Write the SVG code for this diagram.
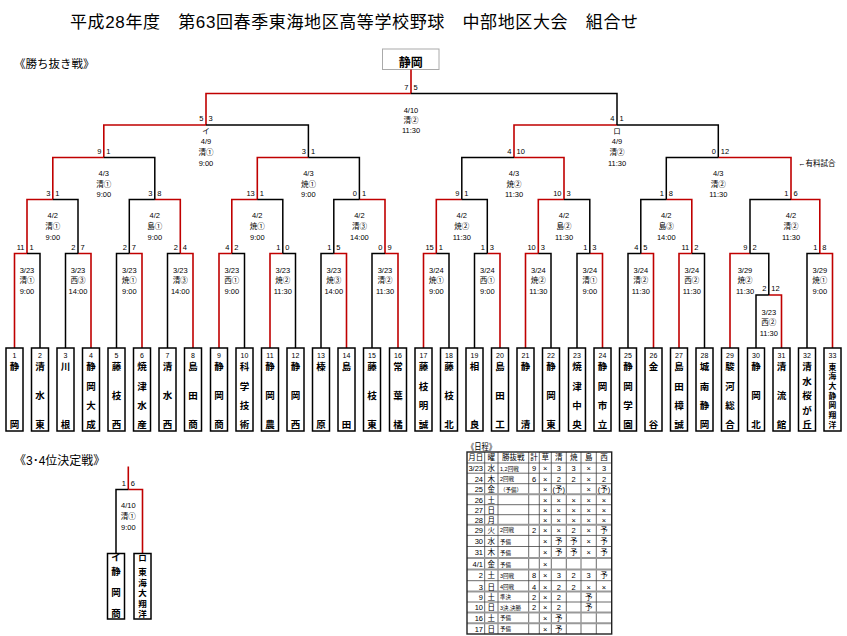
<svg xmlns="http://www.w3.org/2000/svg" width="847" height="636" viewBox="0 0 847 636">
<style>
.k{fill:none;stroke:#000;stroke-width:1.5}
.r{fill:none;stroke:#c00000;stroke-width:1.6}
.bx{fill:#fff;stroke:#000;stroke-width:1.5}
text{font-family:"Liberation Sans","Noto Sans CJK JP",sans-serif;fill:#000}
.s{font-size:7.5px}
.sl{font-size:7.5px;text-anchor:end}
.d{font-size:7.5px;text-anchor:middle}
.n{font-family:"Noto Sans CJK JP",sans-serif;font-size:9.5px;font-weight:bold;text-anchor:middle}
.no{font-size:7px;text-anchor:middle}
.tg{stroke:#444;stroke-width:0.8;fill:none}
.tt{stroke:#999;stroke-width:2;fill:none}
.tb{font-family:"Noto Sans CJK JP",sans-serif;font-size:7.5px;text-anchor:middle}
.tr{font-size:7.5px;text-anchor:end}
.tk{font-family:"Noto Sans CJK JP",sans-serif;font-size:5.5px}
</style>
<rect width="847" height="636" fill="#fff"/>
<text x="70" y="28" font-family="Noto Sans CJK JP, sans-serif" font-size="17" textLength="568">平成28年度　第63回春季東海地区高等学校野球　中部地区大会　組合せ</text>
<text x="14" y="67.5" font-family="Noto Sans CJK JP, sans-serif" font-size="11.5">《勝ち抜き戦》</text>
<text x="14" y="464.5" font-family="Noto Sans CJK JP, sans-serif" font-size="12">《3･4位決定戦》</text>

<g id="champion">
<rect x="382.5" y="49" width="56.5" height="20.5" fill="#fff" stroke="#aaa" stroke-width="1"/>
<text x="410.7" y="67" font-family="Noto Sans CJK JP, sans-serif" font-size="12" font-weight="bold" text-anchor="middle">静岡</text>
</g>

<g id="connectors">
<path class="r" d="M14.5 348V253.5H27 M78 253.5H91V348 M129.3 253.5H142V348 M180.3 253.5H193V348 M219 348V253.5H231.8 M270 348V253.5H282.8 M333.8 253.5H346.5V348 M385 253.5H398V348 M27 253.5V199.5H52.8 M154.8 199.5H180.3V253.5 M231.8 253.5V199.5H257.3 M359.4 199.5H385V253.5 M52.8 199.5V157.5H103.8 M257.3 199.5V157.5H308.4 M103.8 157.5V125H206 M423.5 348V253.5H436.3 M487.3 253.5H500V348 M525.5 348V253.5H538.3 M589.8 253.5H602.5V348 M640.8 253.5H653.5V348 M679 348V253.5H691.8 M768.8 295H781.5V348 M730 348V253.5H750 M819.8 253.5H832.5V348 M436.3 253.5V199.5H461.8 M538.3 253.5V199.5H564 M666.3 199.5H691.8V253.5 M791 199.5H819.8V253.5 M514 157.5H564V199.5 M718.3 157.5H791V199.5 M514 157.5V125H617 M206 125V93.5H411 M411 93.5V69.5 M128.3 489.5H142.5V553.5 M128.3 466.5V489.5"/>
<path class="k" d="M27 253.5H40V348 M65.5 348V253.5H78 M116.5 348V253.5H129.3 M167.5 348V253.5H180.3 M231.8 253.5H244.5V348 M282.8 253.5H295.5V348 M321 348V253.5H333.8 M372 348V253.5H385 M52.8 199.5H78V253.5 M129.3 253.5V199.5H154.8 M257.3 199.5H282.8V253.5 M333.8 253.5V199.5H359.4 M103.8 157.5H154.8V199.5 M308.4 157.5H359.4V199.5 M206 125H308.4V157.5 M436.3 253.5H449V348 M474.5 348V253.5H487.3 M538.3 253.5H551V348 M577 348V253.5H589.8 M628 348V253.5H640.8 M691.8 253.5H704.5V348 M756 348V295H768.8 M750 253.5H768.8V295 M807 348V253.5H819.8 M461.8 199.5H487.3V253.5 M564 199.5H589.8V253.5 M640.8 253.5V199.5H666.3 M750 253.5V199.5H791 M461.8 199.5V157.5H514 M666.3 199.5V157.5H718.3 M617 125H718.3V157.5 M411 93.5H617V125 M116 553.5V489.5H128.3"/>
</g>

<g id="scores">
<text class="sl" x="24.5" y="249.5">11</text><text class="s" x="29.5" y="249.5">1</text>
<text class="sl" x="75.5" y="249.5">2</text><text class="s" x="80.5" y="249.5">7</text>
<text class="sl" x="126.8" y="249.5">2</text><text class="s" x="131.8" y="249.5">7</text>
<text class="sl" x="177.8" y="249.5">2</text><text class="s" x="182.8" y="249.5">4</text>
<text class="sl" x="229.3" y="249.5">4</text><text class="s" x="234.3" y="249.5">2</text>
<text class="sl" x="280.3" y="249.5">1</text><text class="s" x="285.3" y="249.5">0</text>
<text class="sl" x="331.3" y="249.5">1</text><text class="s" x="336.3" y="249.5">5</text>
<text class="sl" x="382.5" y="249.5">0</text><text class="s" x="387.5" y="249.5">9</text>
<text class="sl" x="50.3" y="195.5">3</text><text class="s" x="55.3" y="195.5">1</text>
<text class="sl" x="152.3" y="195.5">3</text><text class="s" x="157.3" y="195.5">8</text>
<text class="sl" x="254.8" y="195.5">13</text><text class="s" x="259.8" y="195.5">1</text>
<text class="sl" x="356.9" y="195.5">0</text><text class="s" x="361.9" y="195.5">1</text>
<text class="sl" x="101.3" y="153.5">9</text><text class="s" x="106.3" y="153.5">1</text>
<text class="sl" x="305.9" y="153.5">3</text><text class="s" x="310.9" y="153.5">1</text>
<text class="sl" x="203.5" y="121">5</text><text class="s" x="208.5" y="121">3</text>
<text class="sl" x="614.5" y="121">4</text><text class="s" x="619.5" y="121">1</text>
<text class="sl" x="408.5" y="89.5">7</text><text class="s" x="413.5" y="89.5">5</text>
<text class="sl" x="433.8" y="249.5">15</text><text class="s" x="438.8" y="249.5">1</text>
<text class="sl" x="484.8" y="249.5">1</text><text class="s" x="489.8" y="249.5">3</text>
<text class="sl" x="535.8" y="249.5">10</text><text class="s" x="540.8" y="249.5">3</text>
<text class="sl" x="587.3" y="249.5">1</text><text class="s" x="592.3" y="249.5">3</text>
<text class="sl" x="638.3" y="249.5">4</text><text class="s" x="643.3" y="249.5">5</text>
<text class="sl" x="689.3" y="249.5">11</text><text class="s" x="694.3" y="249.5">2</text>
<text class="sl" x="747.5" y="249.5">9</text><text class="s" x="752.5" y="249.5">2</text>
<text class="sl" x="817.3" y="249.5">1</text><text class="s" x="822.3" y="249.5">8</text>
<text class="sl" x="766.3" y="291">2</text><text class="s" x="771.3" y="291">12</text>
<text class="sl" x="459.3" y="195.5">9</text><text class="s" x="464.3" y="195.5">1</text>
<text class="sl" x="561.5" y="195.5">10</text><text class="s" x="566.5" y="195.5">3</text>
<text class="sl" x="663.8" y="195.5">1</text><text class="s" x="668.8" y="195.5">8</text>
<text class="sl" x="788.5" y="195.5">1</text><text class="s" x="793.5" y="195.5">6</text>
<text class="sl" x="511.5" y="153.5">4</text><text class="s" x="516.5" y="153.5">10</text>
<text class="sl" x="715.8" y="153.5">0</text><text class="s" x="720.8" y="153.5">12</text>
<text class="sl" x="125.8" y="485.5">1</text><text class="s" x="130.8" y="485.5">6</text>
</g>

<g id="dates">
<text class="d"><tspan x="27" y="272.5">3/23</tspan><tspan x="27" y="283">清①</tspan><tspan x="27" y="294">9:00</tspan></text>
<text class="d"><tspan x="78" y="272.5">3/23</tspan><tspan x="78" y="283">西③</tspan><tspan x="78" y="294">14:00</tspan></text>
<text class="d"><tspan x="129.3" y="272.5">3/23</tspan><tspan x="129.3" y="283">焼①</tspan><tspan x="129.3" y="294">9:00</tspan></text>
<text class="d"><tspan x="180.3" y="272.5">3/23</tspan><tspan x="180.3" y="283">清③</tspan><tspan x="180.3" y="294">14:00</tspan></text>
<text class="d"><tspan x="231.8" y="272.5">3/23</tspan><tspan x="231.8" y="283">西①</tspan><tspan x="231.8" y="294">9:00</tspan></text>
<text class="d"><tspan x="282.8" y="272.5">3/23</tspan><tspan x="282.8" y="283">焼②</tspan><tspan x="282.8" y="294">11:30</tspan></text>
<text class="d"><tspan x="333.8" y="272.5">3/23</tspan><tspan x="333.8" y="283">焼③</tspan><tspan x="333.8" y="294">14:00</tspan></text>
<text class="d"><tspan x="385" y="272.5">3/23</tspan><tspan x="385" y="283">清②</tspan><tspan x="385" y="294">11:30</tspan></text>
<text class="d"><tspan x="436.3" y="272.5">3/24</tspan><tspan x="436.3" y="283">焼①</tspan><tspan x="436.3" y="294">9:00</tspan></text>
<text class="d"><tspan x="487.3" y="272.5">3/24</tspan><tspan x="487.3" y="283">西①</tspan><tspan x="487.3" y="294">9:00</tspan></text>
<text class="d"><tspan x="538.3" y="272.5">3/24</tspan><tspan x="538.3" y="283">焼②</tspan><tspan x="538.3" y="294">11:30</tspan></text>
<text class="d"><tspan x="589.8" y="272.5">3/24</tspan><tspan x="589.8" y="283">清①</tspan><tspan x="589.8" y="294">9:00</tspan></text>
<text class="d"><tspan x="640.8" y="272.5">3/24</tspan><tspan x="640.8" y="283">清②</tspan><tspan x="640.8" y="294">11:30</tspan></text>
<text class="d"><tspan x="691.8" y="272.5">3/24</tspan><tspan x="691.8" y="283">西②</tspan><tspan x="691.8" y="294">11:30</tspan></text>
<text class="d"><tspan x="745" y="272.5">3/29</tspan><tspan x="745" y="283">焼②</tspan><tspan x="745" y="294">11:30</tspan></text>
<text class="d"><tspan x="819.8" y="272.5">3/29</tspan><tspan x="819.8" y="283">焼①</tspan><tspan x="819.8" y="294">9:00</tspan></text>
<text class="d"><tspan x="768.8" y="314.7">3/23</tspan><tspan x="768.8" y="325.3">西②</tspan><tspan x="768.8" y="336.3">11:30</tspan></text>
<text class="d"><tspan x="52.8" y="218">4/2</tspan><tspan x="52.8" y="229">清①</tspan><tspan x="52.8" y="240.3">9:00</tspan></text>
<text class="d"><tspan x="154.8" y="218">4/2</tspan><tspan x="154.8" y="229">島①</tspan><tspan x="154.8" y="240.3">9:00</tspan></text>
<text class="d"><tspan x="257.3" y="218">4/2</tspan><tspan x="257.3" y="229">焼①</tspan><tspan x="257.3" y="240.3">9:00</tspan></text>
<text class="d"><tspan x="359.4" y="218">4/2</tspan><tspan x="359.4" y="229">清③</tspan><tspan x="359.4" y="240.3">14:00</tspan></text>
<text class="d"><tspan x="461.8" y="218">4/2</tspan><tspan x="461.8" y="229">焼②</tspan><tspan x="461.8" y="240.3">11:30</tspan></text>
<text class="d"><tspan x="564" y="218">4/2</tspan><tspan x="564" y="229">島②</tspan><tspan x="564" y="240.3">11:30</tspan></text>
<text class="d"><tspan x="666.3" y="218">4/2</tspan><tspan x="666.3" y="229">島③</tspan><tspan x="666.3" y="240.3">14:00</tspan></text>
<text class="d"><tspan x="791" y="218">4/2</tspan><tspan x="791" y="229">清②</tspan><tspan x="791" y="240.3">11:30</tspan></text>
<text class="d"><tspan x="103.8" y="176.3">4/3</tspan><tspan x="103.8" y="186.5">清①</tspan><tspan x="103.8" y="197">9:00</tspan></text>
<text class="d"><tspan x="308.4" y="176.3">4/3</tspan><tspan x="308.4" y="186.5">焼①</tspan><tspan x="308.4" y="197">9:00</tspan></text>
<text class="d"><tspan x="514" y="176.3">4/3</tspan><tspan x="514" y="186.5">焼②</tspan><tspan x="514" y="197">11:30</tspan></text>
<text class="d"><tspan x="718.3" y="176.3">4/3</tspan><tspan x="718.3" y="186.5">清②</tspan><tspan x="718.3" y="197">11:30</tspan></text>
<text class="d"><tspan x="206" y="134">イ</tspan><tspan x="206" y="144">4/9</tspan><tspan x="206" y="155">清①</tspan><tspan x="206" y="165.5">9:00</tspan></text>
<text class="d"><tspan x="617" y="134">ロ</tspan><tspan x="617" y="144">4/9</tspan><tspan x="617" y="155">清②</tspan><tspan x="617" y="165.5">11:30</tspan></text>
<text class="d"><tspan x="411" y="112.5">4/10</tspan><tspan x="411" y="123">清②</tspan><tspan x="411" y="133">11:30</tspan></text>
<text class="d"><tspan x="128.3" y="508">4/10</tspan><tspan x="128.3" y="518.7">清①</tspan><tspan x="128.3" y="529.7">9:00</tspan></text>
<text class="s" x="798" y="166">←有料試合</text>
</g>

<g id="t1"><rect class="bx" x="6" y="348" width="17" height="83"/><text class="no" x="14.5" y="357.5">1</text><text class="n"><tspan x="14.5" y="370.3">静</tspan><tspan x="14.5" y="427.9">岡</tspan></text></g>
<g id="t2"><rect class="bx" x="31.5" y="348" width="17" height="83"/><text class="no" x="40" y="357.5">2</text><text class="n"><tspan x="40" y="370.3">清</tspan><tspan x="40" y="399.1">水</tspan><tspan x="40" y="427.9">東</tspan></text></g>
<g id="t3"><rect class="bx" x="57" y="348" width="17" height="83"/><text class="no" x="65.5" y="357.5">3</text><text class="n"><tspan x="65.5" y="370.3">川</tspan><tspan x="65.5" y="427.9">根</tspan></text></g>
<g id="t4"><rect class="bx" x="82.5" y="348" width="17" height="83"/><text class="no" x="91" y="357.5">4</text><text class="n"><tspan x="91" y="370.3">静</tspan><tspan x="91" y="389.5">岡</tspan><tspan x="91" y="408.7">大</tspan><tspan x="91" y="427.9">成</tspan></text></g>
<g id="t5"><rect class="bx" x="108" y="348" width="17" height="83"/><text class="no" x="116.5" y="357.5">5</text><text class="n"><tspan x="116.5" y="370.3">藤</tspan><tspan x="116.5" y="399.1">枝</tspan><tspan x="116.5" y="427.9">西</tspan></text></g>
<g id="t6"><rect class="bx" x="133.5" y="348" width="17" height="83"/><text class="no" x="142" y="357.5">6</text><text class="n"><tspan x="142" y="370.3">焼</tspan><tspan x="142" y="389.5">津</tspan><tspan x="142" y="408.7">水</tspan><tspan x="142" y="427.9">産</tspan></text></g>
<g id="t7"><rect class="bx" x="159" y="348" width="17" height="83"/><text class="no" x="167.5" y="357.5">7</text><text class="n"><tspan x="167.5" y="370.3">清</tspan><tspan x="167.5" y="399.1">水</tspan><tspan x="167.5" y="427.9">西</tspan></text></g>
<g id="t8"><rect class="bx" x="184.5" y="348" width="17" height="83"/><text class="no" x="193" y="357.5">8</text><text class="n"><tspan x="193" y="370.3">島</tspan><tspan x="193" y="399.1">田</tspan><tspan x="193" y="427.9">商</tspan></text></g>
<g id="t9"><rect class="bx" x="210.5" y="348" width="17" height="83"/><text class="no" x="219" y="357.5">9</text><text class="n"><tspan x="219" y="370.3">静</tspan><tspan x="219" y="399.1">岡</tspan><tspan x="219" y="427.9">商</tspan></text></g>
<g id="t10"><rect class="bx" x="236" y="348" width="17" height="83"/><text class="no" x="244.5" y="357.5">10</text><text class="n"><tspan x="244.5" y="370.3">科</tspan><tspan x="244.5" y="389.5">学</tspan><tspan x="244.5" y="408.7">技</tspan><tspan x="244.5" y="427.9">術</tspan></text></g>
<g id="t11"><rect class="bx" x="261.5" y="348" width="17" height="83"/><text class="no" x="270" y="357.5">11</text><text class="n"><tspan x="270" y="370.3">静</tspan><tspan x="270" y="399.1">岡</tspan><tspan x="270" y="427.9">農</tspan></text></g>
<g id="t12"><rect class="bx" x="287" y="348" width="17" height="83"/><text class="no" x="295.5" y="357.5">12</text><text class="n"><tspan x="295.5" y="370.3">静</tspan><tspan x="295.5" y="399.1">岡</tspan><tspan x="295.5" y="427.9">西</tspan></text></g>
<g id="t13"><rect class="bx" x="312.5" y="348" width="17" height="83"/><text class="no" x="321" y="357.5">13</text><text class="n"><tspan x="321" y="370.3">榛</tspan><tspan x="321" y="427.9">原</tspan></text></g>
<g id="t14"><rect class="bx" x="338" y="348" width="17" height="83"/><text class="no" x="346.5" y="357.5">14</text><text class="n"><tspan x="346.5" y="370.3">島</tspan><tspan x="346.5" y="427.9">田</tspan></text></g>
<g id="t15"><rect class="bx" x="363.5" y="348" width="17" height="83"/><text class="no" x="372" y="357.5">15</text><text class="n"><tspan x="372" y="370.3">藤</tspan><tspan x="372" y="399.1">枝</tspan><tspan x="372" y="427.9">東</tspan></text></g>
<g id="t16"><rect class="bx" x="389.5" y="348" width="17" height="83"/><text class="no" x="398" y="357.5">16</text><text class="n"><tspan x="398" y="370.3">常</tspan><tspan x="398" y="399.1">葉</tspan><tspan x="398" y="427.9">橘</tspan></text></g>
<g id="t17"><rect class="bx" x="415" y="348" width="17" height="83"/><text class="no" x="423.5" y="357.5">17</text><text class="n"><tspan x="423.5" y="370.3">藤</tspan><tspan x="423.5" y="389.5">枝</tspan><tspan x="423.5" y="408.7">明</tspan><tspan x="423.5" y="427.9">誠</tspan></text></g>
<g id="t18"><rect class="bx" x="440.5" y="348" width="17" height="83"/><text class="no" x="449" y="357.5">18</text><text class="n"><tspan x="449" y="370.3">藤</tspan><tspan x="449" y="399.1">枝</tspan><tspan x="449" y="427.9">北</tspan></text></g>
<g id="t19"><rect class="bx" x="466" y="348" width="17" height="83"/><text class="no" x="474.5" y="357.5">19</text><text class="n"><tspan x="474.5" y="370.3">相</tspan><tspan x="474.5" y="427.9">良</tspan></text></g>
<g id="t20"><rect class="bx" x="491.5" y="348" width="17" height="83"/><text class="no" x="500" y="357.5">20</text><text class="n"><tspan x="500" y="370.3">島</tspan><tspan x="500" y="399.1">田</tspan><tspan x="500" y="427.9">工</tspan></text></g>
<g id="t21"><rect class="bx" x="517" y="348" width="17" height="83"/><text class="no" x="525.5" y="357.5">21</text><text class="n"><tspan x="525.5" y="370.3">静</tspan><tspan x="525.5" y="427.9">清</tspan></text></g>
<g id="t22"><rect class="bx" x="542.5" y="348" width="17" height="83"/><text class="no" x="551" y="357.5">22</text><text class="n"><tspan x="551" y="370.3">静</tspan><tspan x="551" y="399.1">岡</tspan><tspan x="551" y="427.9">東</tspan></text></g>
<g id="t23"><rect class="bx" x="568.5" y="348" width="17" height="83"/><text class="no" x="577" y="357.5">23</text><text class="n"><tspan x="577" y="370.3">焼</tspan><tspan x="577" y="389.5">津</tspan><tspan x="577" y="408.7">中</tspan><tspan x="577" y="427.9">央</tspan></text></g>
<g id="t24"><rect class="bx" x="594" y="348" width="17" height="83"/><text class="no" x="602.5" y="357.5">24</text><text class="n"><tspan x="602.5" y="370.3">静</tspan><tspan x="602.5" y="389.5">岡</tspan><tspan x="602.5" y="408.7">市</tspan><tspan x="602.5" y="427.9">立</tspan></text></g>
<g id="t25"><rect class="bx" x="619.5" y="348" width="17" height="83"/><text class="no" x="628" y="357.5">25</text><text class="n"><tspan x="628" y="370.3">静</tspan><tspan x="628" y="389.5">岡</tspan><tspan x="628" y="408.7">学</tspan><tspan x="628" y="427.9">園</tspan></text></g>
<g id="t26"><rect class="bx" x="645" y="348" width="17" height="83"/><text class="no" x="653.5" y="357.5">26</text><text class="n"><tspan x="653.5" y="370.3">金</tspan><tspan x="653.5" y="427.9">谷</tspan></text></g>
<g id="t27"><rect class="bx" x="670.5" y="348" width="17" height="83"/><text class="no" x="679" y="357.5">27</text><text class="n"><tspan x="679" y="370.3">島</tspan><tspan x="679" y="389.5">田</tspan><tspan x="679" y="408.7">樟</tspan><tspan x="679" y="427.9">誠</tspan></text></g>
<g id="t28"><rect class="bx" x="696" y="348" width="17" height="83"/><text class="no" x="704.5" y="357.5">28</text><text class="n"><tspan x="704.5" y="370.3">城</tspan><tspan x="704.5" y="389.5">南</tspan><tspan x="704.5" y="408.7">静</tspan><tspan x="704.5" y="427.9">岡</tspan></text></g>
<g id="t29"><rect class="bx" x="721.5" y="348" width="17" height="83"/><text class="no" x="730" y="357.5">29</text><text class="n"><tspan x="730" y="370.3">駿</tspan><tspan x="730" y="389.5">河</tspan><tspan x="730" y="408.7">総</tspan><tspan x="730" y="427.9">合</tspan></text></g>
<g id="t30"><rect class="bx" x="747.5" y="348" width="17" height="83"/><text class="no" x="756" y="357.5">30</text><text class="n"><tspan x="756" y="370.3">静</tspan><tspan x="756" y="399.1">岡</tspan><tspan x="756" y="427.9">北</tspan></text></g>
<g id="t31"><rect class="bx" x="773" y="348" width="17" height="83"/><text class="no" x="781.5" y="357.5">31</text><text class="n"><tspan x="781.5" y="370.3">清</tspan><tspan x="781.5" y="399.1">流</tspan><tspan x="781.5" y="427.9">館</tspan></text></g>
<g id="t32"><rect class="bx" x="798.5" y="348" width="17" height="83"/><text class="no" x="807" y="357.5">32</text><text class="n"><tspan x="807" y="370.3">清</tspan><tspan x="807" y="384.7">水</tspan><tspan x="807" y="399.1">桜</tspan><tspan x="807" y="413.5">が</tspan><tspan x="807" y="427.9">丘</tspan></text></g>
<g id="t33"><rect class="bx" x="824" y="348" width="17" height="83"/><text class="no" x="832.5" y="357.5">33</text><text class="n" style="font-size:7.8px"><tspan x="832.5" y="369.6">東</tspan><tspan x="832.5" y="379.3">海</tspan><tspan x="832.5" y="389">大</tspan><tspan x="832.5" y="398.7">静</tspan><tspan x="832.5" y="408.4">岡</tspan><tspan x="832.5" y="418.1">翔</tspan><tspan x="832.5" y="427.8">洋</tspan></text></g>

<g id="p3a"><rect class="bx" x="107.5" y="553.5" width="17" height="65.5"/><text class="n"><tspan x="116" y="561">イ</tspan><tspan x="116" y="575.3">静</tspan><tspan x="116" y="596.4">岡</tspan><tspan x="116" y="617.4">商</tspan></text></g>
<g id="p3b"><rect class="bx" x="134" y="553.5" width="17" height="65.5"/><text class="n" style="font-size:8.5px"><tspan x="142.5" y="561">ロ</tspan><tspan x="142.5" y="575">東</tspan><tspan x="142.5" y="585.6">海</tspan><tspan x="142.5" y="596.2">大</tspan><tspan x="142.5" y="606.8">翔</tspan><tspan x="142.5" y="617.4">洋</tspan></text></g>

<g id="schedule">
<text x="467" y="449.5" font-family="Noto Sans CJK JP, sans-serif" font-size="9" textLength="29" lengthAdjust="spacingAndGlyphs">《日程》</text>
<path class="tg" d="M467 463H611.7 M467 473.2H611.7 M467 483.7H611.7 M467 504.7H611.7 M467 514.7H611.7 M467 535.4H611.7 M467 546.5H611.7 M467 580.7H611.7 M467 602H611.7 M484.7 452V634 M498 452V634 M528.7 452V634 M539.3 452V634 M551.3 452V634 M566.3 452V634 M581 452V634 M596.3 452V634"/>
<path class="tt" d="M467 494.3H611.7 M467 524.7H611.7 M467 558H611.7 M467 569.5H611.7 M467 591.6H611.7 M467 612.5H611.7 M467 623.3H611.7"/>
<rect x="467" y="452" width="144.7" height="182" fill="none" stroke="#222" stroke-width="1.4"/>
<g class="tb">
<text x="475.8" y="460.3">月日</text><text x="491.3" y="460.3">曜</text><text x="513.3" y="460.3">勝抜戦</text><text x="534" y="460.3">計</text><text x="545.3" y="460.3">草</text><text x="558.8" y="460.3">清</text><text x="573.7" y="460.3">焼</text><text x="588.7" y="460.3">島</text><text x="604" y="460.3">西</text>
</g>
<g class="tr">
<text x="483" y="471">3/23</text><text x="483" y="481.5">24</text><text x="483" y="492">25</text><text x="483" y="502.7">26</text><text x="483" y="512.7">27</text><text x="483" y="522.7">28</text><text x="483" y="532.8">29</text><text x="483" y="544">30</text><text x="483" y="555">31</text><text x="483" y="567">4/1</text><text x="483" y="578">2</text><text x="483" y="589.5">3</text><text x="483" y="599.8">9</text><text x="483" y="610.2">10</text><text x="483" y="620.8">16</text><text x="483" y="631.8">17</text>
</g>
<g class="tb">
<text x="491.3" y="471">水</text><text x="491.3" y="481.5">木</text><text x="491.3" y="492">金</text><text x="491.3" y="502.7">土</text><text x="491.3" y="512.7">日</text><text x="491.3" y="522.7">月</text><text x="491.3" y="532.8">火</text><text x="491.3" y="544">水</text><text x="491.3" y="555">木</text><text x="491.3" y="567">金</text><text x="491.3" y="578">土</text><text x="491.3" y="589.5">日</text><text x="491.3" y="599.8">土</text><text x="491.3" y="610.2">日</text><text x="491.3" y="620.8">土</text><text x="491.3" y="631.8">日</text>
</g>
<g class="tk">
<text x="500" y="470.5">1,2回戦</text><text x="500" y="481">2回戦</text><text x="500" y="491.5">（予備）</text><text x="500" y="532.3">2回戦</text><text x="500" y="543.5">予備</text><text x="500" y="554.5">予備</text><text x="500" y="566.5">予備</text><text x="500" y="577.5">3回戦</text><text x="500" y="589">4回戦</text><text x="500" y="599.3">準決</text><text x="500" y="609.7">3決,決勝</text><text x="500" y="620.3">予備</text><text x="500" y="631.3">予備</text>
</g>
<g class="tb">
<text x="534" y="471">9</text><text x="534" y="481.5">6</text><text x="534" y="532.8">2</text><text x="534" y="578">8</text><text x="534" y="589.5">4</text><text x="534" y="599.8">2</text><text x="534" y="610.2">2</text>
<text x="545.3" y="471">×</text><text x="545.3" y="481.5">×</text><text x="545.3" y="492">×</text><text x="545.3" y="502.7">×</text><text x="545.3" y="512.7">×</text><text x="545.3" y="522.7">×</text><text x="545.3" y="532.8">×</text><text x="545.3" y="544">×</text><text x="545.3" y="555">×</text><text x="545.3" y="567">×</text><text x="545.3" y="578">×</text><text x="545.3" y="589.5">×</text><text x="545.3" y="599.8">×</text><text x="545.3" y="610.2">×</text><text x="545.3" y="620.8">×</text><text x="545.3" y="631.8">×</text>
<text x="558.8" y="471">3</text><text x="558.8" y="481.5">2</text><text x="558.8" y="492">(予)</text><text x="558.8" y="502.7">×</text><text x="558.8" y="512.7">×</text><text x="558.8" y="522.7">×</text><text x="558.8" y="532.8">×</text><text x="558.8" y="544">予</text><text x="558.8" y="555">予</text><text x="558.8" y="578">3</text><text x="558.8" y="589.5">2</text><text x="558.8" y="599.8">2</text><text x="558.8" y="610.2">2</text><text x="558.8" y="620.8">予</text><text x="558.8" y="631.8">予</text>
<text x="573.7" y="471">3</text><text x="573.7" y="481.5">2</text><text x="573.7" y="502.7">×</text><text x="573.7" y="512.7">×</text><text x="573.7" y="522.7">×</text><text x="573.7" y="532.8">2</text><text x="573.7" y="544">予</text><text x="573.7" y="555">予</text><text x="573.7" y="578">2</text><text x="573.7" y="589.5">2</text>
<text x="588.7" y="471">×</text><text x="588.7" y="481.5">×</text><text x="588.7" y="492">×</text><text x="588.7" y="502.7">×</text><text x="588.7" y="512.7">×</text><text x="588.7" y="522.7">×</text><text x="588.7" y="532.8">×</text><text x="588.7" y="544">×</text><text x="588.7" y="555">×</text><text x="588.7" y="578">3</text><text x="588.7" y="589.5">×</text><text x="588.7" y="599.8">予</text><text x="588.7" y="610.2">予</text>
<text x="604" y="471">3</text><text x="604" y="481.5">2</text><text x="604" y="492">(予)</text><text x="604" y="502.7">×</text><text x="604" y="512.7">×</text><text x="604" y="522.7">×</text><text x="604" y="532.8">予</text><text x="604" y="544">予</text><text x="604" y="555">予</text><text x="604" y="578">予</text><text x="604" y="589.5">×</text>
</g>
</g>
</svg>
